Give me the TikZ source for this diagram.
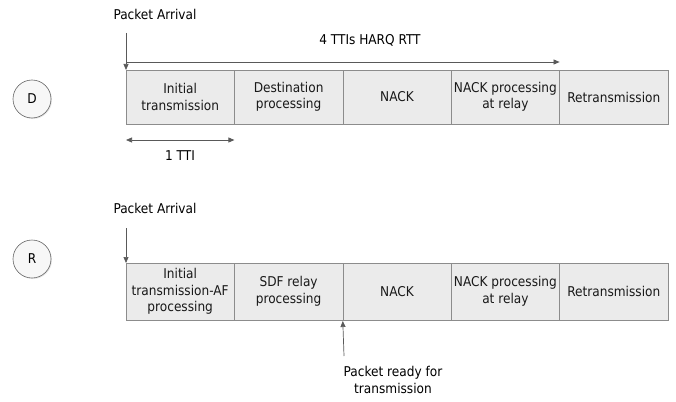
\documentclass[tikz,border=0pt]{standalone}
\usepackage{fontspec}
\setmainfont{DejaVu Sans Condensed}
\usetikzlibrary{arrows.meta, positioning, shadows}

\begin{document}
\begin{tikzpicture}[
    x = 1pt, y = -1pt,
node distance = 0pt,
    font = \fontsize{13.5}{16.5}\selectfont,
    link/.style = {draw=black!65, line width=0.7pt},
     tip/.style = {link, -{Triangle[length=6pt, width=5pt]}},
    span/.style = {link, {Triangle[length=6pt, width=5pt]}-{Triangle[length=6pt, width=5pt]}},
    slot/.style = {draw=black!45, fill=black!8, line width=0.5pt,
                   minimum width=108.4pt, minimum height=#1,
                   inner sep=1pt, align=center, text=black!90,
                   outer sep=0pt,
                   drop shadow={shadow xshift=1pt, shadow yshift=-1pt,
                                opacity=0.25}},
    slot/.default = 54pt,
    term/.style = {circle, draw=black!60, fill=black!3, minimum size=38pt,
                   inner sep=0pt, line width=0.6pt,
                   drop shadow={shadow xshift=1pt, shadow yshift=-1pt,
                                opacity=0.2}},
                    ]
\useasboundingbox (0,0) rectangle (676,401);
% destination row
\node[term] (D) at (32,99) {D};
\node[slot, anchor=north west] (D1) at (126,70) {Initial\\transmission};
\node[slot] (D2) [right=of D1] {Destination\\processing};
\node[slot] (D3) [right=of D2] {NACK};
\node[slot] (D4) [right=of D3] {NACK processing\\at relay};
\node[slot] (D5) [right=of D4] {Retransmission};
%
\node (arrD) at (155,14) {Packet Arrival};
\coordinate (arrDs) at (126,33);
\node (rtt) at (370,40) {4 TTIs HARQ RTT};
\node (tti) at (180,156) {1 TTI};
% relay row
\node[term] (R) at (32,259) {R};
\node[slot=57pt, anchor=north west] (R1) at (126,263)
    {Initial\\transmission-AF\\processing};
\node[slot=57pt] (R2) [right=of R1] {SDF relay\\processing};
\node[slot=57pt] (R3) [right=of R2] {NACK};
\node[slot=57pt] (R4) [right=of R3] {NACK processing\\at relay};
\node[slot=57pt] (R5) [right=of R4] {Retransmission};
%
\node (arrR) at (155,208) {Packet Arrival};
\coordinate (arrRs) at (126,228);
\node[align=center] (ready) at (393,380) {Packet ready for\\transmission};
\coordinate (readys) at (344,356);
%
\path   (arrDs) edge[tip] (D1.north west)
        ([yshift=8pt] D1.north west) edge[tip] ([yshift=8pt] D4.north east)
        ([yshift=-16pt] D1.south west) edge[span] ([yshift=-16pt] D1.south east)
        (arrRs) edge[tip] (R1.north west)
        (readys) edge[tip] ([yshift=-1pt] R2.south east);
%
\end{tikzpicture}
\end{document}
